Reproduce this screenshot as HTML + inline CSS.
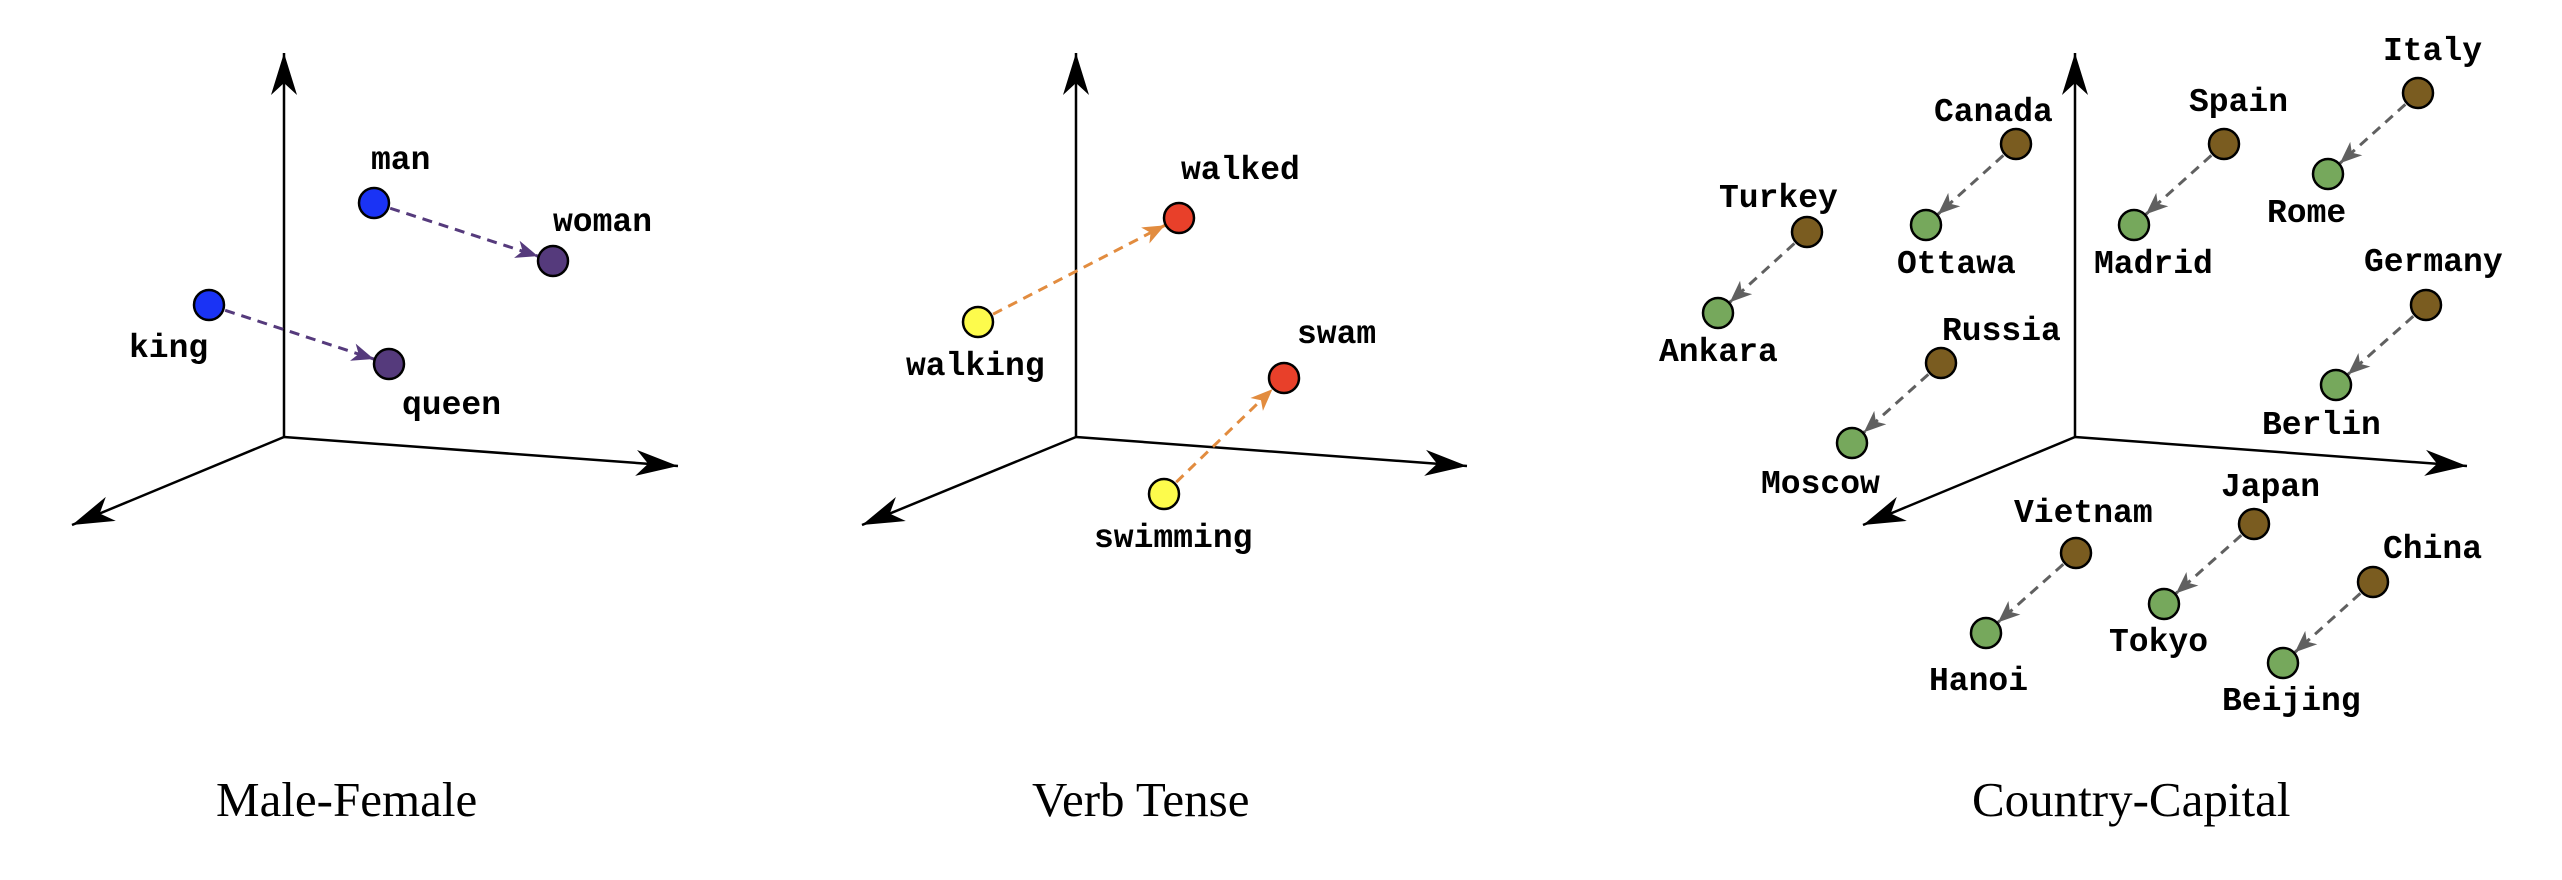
<!DOCTYPE html>
<html><head><meta charset="utf-8"><style>
html,body{margin:0;padding:0;background:#fff;}
svg{display:block;}
.l{font-family:"Liberation Mono",monospace;font-size:33px;font-weight:bold;fill:#000;}
.t{font-family:"Liberation Serif",serif;font-size:49px;fill:#000;}
</style></head><body>
<svg width="2562" height="880" viewBox="0 0 2562 880" xmlns="http://www.w3.org/2000/svg">
<defs>
<marker id="ax" markerUnits="userSpaceOnUse" markerWidth="46" markerHeight="30" viewBox="-44 -15 46 30" refX="0" refY="0" orient="auto"><path d="M0,0 L-42,-13 L-30,0 L-42,13 Z" fill="#000"/></marker>
<marker id="ap" markerUnits="userSpaceOnUse" markerWidth="42" markerHeight="24" viewBox="-40 -12 42 24" refX="16" refY="0" orient="auto"><path d="M0,0 L-22,-9 L-16,0 L-22,9 Z" fill="#553a7c"/></marker>
<marker id="ao" markerUnits="userSpaceOnUse" markerWidth="42" markerHeight="24" viewBox="-40 -12 42 24" refX="16" refY="0" orient="auto"><path d="M0,0 L-22,-9 L-16,0 L-22,9 Z" fill="#e28c3f"/></marker>
<marker id="ag" markerUnits="userSpaceOnUse" markerWidth="42" markerHeight="24" viewBox="-40 -12 42 24" refX="16" refY="0" orient="auto"><path d="M0,0 L-22,-9 L-16,0 L-22,9 Z" fill="#606060"/></marker>
</defs>
<g stroke="#000" stroke-width="2.5" fill="none">
<line x1="284" y1="437" x2="284" y2="53" marker-end="url(#ax)"/>
<line x1="284" y1="437" x2="678" y2="466" marker-end="url(#ax)"/>
<line x1="284" y1="437" x2="72" y2="525" marker-end="url(#ax)"/>
<line x1="1076" y1="437" x2="1076" y2="53" marker-end="url(#ax)"/>
<line x1="1076" y1="437" x2="1467" y2="466" marker-end="url(#ax)"/>
<line x1="1076" y1="437" x2="862" y2="525" marker-end="url(#ax)"/>
<line x1="2075" y1="437" x2="2075" y2="53" marker-end="url(#ax)"/>
<line x1="2075" y1="437" x2="2467" y2="466" marker-end="url(#ax)"/>
<line x1="2075" y1="437" x2="1863" y2="525" marker-end="url(#ax)"/>
</g>
<g stroke-width="3" stroke-dasharray="10 7" fill="none">
<line x1="374" y1="203" x2="553" y2="261" stroke="#553a7c" marker-end="url(#ap)"/>
<line x1="209" y1="305" x2="389" y2="364" stroke="#553a7c" marker-end="url(#ap)"/>
<line x1="978" y1="322" x2="1179" y2="218" stroke="#e28c3f" marker-end="url(#ao)"/>
<line x1="1164" y1="494" x2="1284" y2="378" stroke="#e28c3f" marker-end="url(#ao)"/>
<g stroke="#606060">
<line x1="2016" y1="144" x2="1926" y2="225" marker-end="url(#ag)"/>
<line x1="1807" y1="232" x2="1718" y2="313" marker-end="url(#ag)"/>
<line x1="2224" y1="144" x2="2134" y2="225" marker-end="url(#ag)"/>
<line x1="2418" y1="93" x2="2328" y2="174" marker-end="url(#ag)"/>
<line x1="2426" y1="305" x2="2336" y2="385" marker-end="url(#ag)"/>
<line x1="1941" y1="363" x2="1852" y2="443" marker-end="url(#ag)"/>
<line x1="2076" y1="553" x2="1986" y2="633" marker-end="url(#ag)"/>
<line x1="2254" y1="524" x2="2164" y2="604" marker-end="url(#ag)"/>
<line x1="2373" y1="582" x2="2283" y2="663" marker-end="url(#ag)"/>
</g>
</g>
<g stroke="#000" stroke-width="2.5">
<circle cx="374" cy="203" r="15" fill="#1a33f5"/>
<circle cx="209" cy="305" r="15" fill="#1a33f5"/>
<circle cx="553" cy="261" r="15" fill="#553a7c"/>
<circle cx="389" cy="364" r="15" fill="#553a7c"/>
<circle cx="978" cy="322" r="15" fill="#fdfb4c"/>
<circle cx="1164" cy="494" r="15" fill="#fdfb4c"/>
<circle cx="1179" cy="218" r="15" fill="#e8402a"/>
<circle cx="1284" cy="378" r="15" fill="#e8402a"/>
<g fill="#7a5c20">
<circle cx="2016" cy="144" r="15"/><circle cx="1807" cy="232" r="15"/><circle cx="2224" cy="144" r="15"/>
<circle cx="2418" cy="93" r="15"/><circle cx="2426" cy="305" r="15"/><circle cx="1941" cy="363" r="15"/>
<circle cx="2076" cy="553" r="15"/><circle cx="2254" cy="524" r="15"/><circle cx="2373" cy="582" r="15"/>
</g>
<g fill="#76a85c">
<circle cx="1926" cy="225" r="15"/><circle cx="1718" cy="313" r="15"/><circle cx="2134" cy="225" r="15"/>
<circle cx="2328" cy="174" r="15"/><circle cx="2336" cy="385" r="15"/><circle cx="1852" cy="443" r="15"/>
<circle cx="1986" cy="633" r="15"/><circle cx="2164" cy="604" r="15"/><circle cx="2283" cy="663" r="15"/>
</g>
</g>
<g class="l">
<text x="371" y="169" class="l">man</text>
<text x="553" y="231" class="l">woman</text>
<text x="129" y="357" class="l">king</text>
<text x="402" y="414" class="l">queen</text>
<text x="906" y="375" class="l">walking</text>
<text x="1181" y="179" class="l">walked</text>
<text x="1094" y="547" class="l">swimming</text>
<text x="1297" y="343" class="l">swam</text>
<text x="1934" y="121" class="l">Canada</text>
<text x="1897" y="273" class="l">Ottawa</text>
<text x="1719" y="207" class="l">Turkey</text>
<text x="1659" y="361" class="l">Ankara</text>
<text x="2189" y="111" class="l">Spain</text>
<text x="2094" y="273" class="l">Madrid</text>
<text x="2383" y="60" class="l">Italy</text>
<text x="2267" y="222" class="l">Rome</text>
<text x="2364" y="271" class="l">Germany</text>
<text x="2262" y="434" class="l">Berlin</text>
<text x="1942" y="340" class="l">Russia</text>
<text x="1761" y="493" class="l">Moscow</text>
<text x="2014" y="522" class="l">Vietnam</text>
<text x="1929" y="690" class="l">Hanoi</text>
<text x="2221" y="496" class="l">Japan</text>
<text x="2109" y="651" class="l">Tokyo</text>
<text x="2383" y="558" class="l">China</text>
<text x="2222" y="710" class="l">Beijing</text>
</g>
<text x="216" y="816" class="t">Male-Female</text>
<text x="1032" y="816" class="t">Verb Tense</text>
<text x="1972" y="816" class="t">Country-Capital</text>
</svg>
</body></html>
